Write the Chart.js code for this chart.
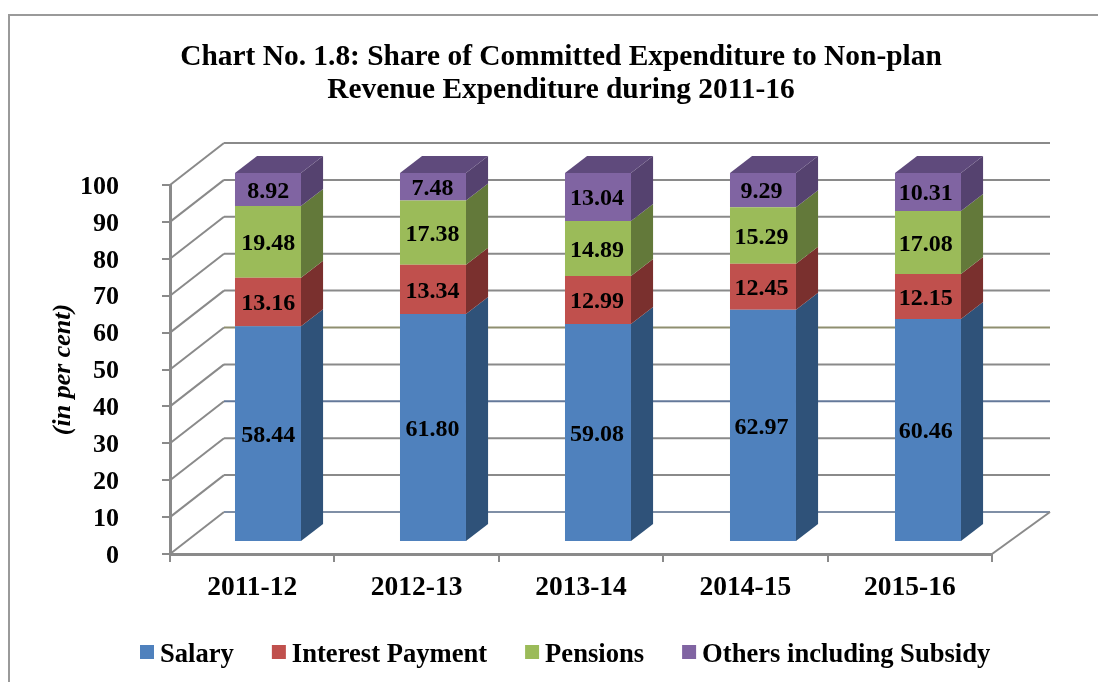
<!DOCTYPE html>
<html>
<head>
<meta charset="utf-8">
<script src="https://cdn.jsdelivr.net/npm/chart.js@4/dist/chart.umd.js"></script>
<style>
html, body { margin: 0; padding: 0; background: #ffffff; }
#wrap { width: 1098px; height: 682px; }
</style>
</head>
<body>
<div id="wrap"><canvas id="chart" width="1098" height="682"></canvas></div>
<script>
const categories = ['2011-12', '2012-13', '2013-14', '2014-15', '2015-16'];
const salary = [58.44, 61.80, 59.08, 62.97, 60.46];
const interestPayment = [13.16, 13.34, 12.99, 12.45, 12.15];
const pensions = [19.48, 17.38, 14.89, 15.29, 17.08];
const others = [8.92, 7.48, 13.04, 9.29, 10.31];
const valueTicks = [0, 10, 20, 30, 40, 50, 60, 70, 80, 90, 100];

const frontColors = ['#4F81BD', '#C0504D', '#9BBB59', '#8064A2'];
const sideColors = ['#2F5279', '#7A302E', '#63793A', '#55426F'];
const topColors = ['#3F6898', '#9A403E', '#7E9848', '#5F4A7C'];
const serif = '"Liberation Serif", "Times New Roman", serif';

// the chart is a fake 3D one: bars sit this far in from the axis plane
const barShift = { x: 14.87, y: -12 };
const barStretch = 165 / 164.4;
const labelShift = { x: 16, y: -10 };
const barDepth = { x: 22, y: -17 };
const wallShift = { left: 54, right: 58, y: -42 };
const gridColor = '#8A8A8A';
// a few wall lines have a tint in the original
const wallTints = { 0: '#7F8FA6', 30: '#64799A', 50: '#8F8F70' };

function quad(ctx, pts, color) {
    ctx.fillStyle = color;
    ctx.beginPath();
    ctx.moveTo(pts[0][0], pts[0][1]);
    for (let i = 1; i < pts.length; i++) ctx.lineTo(pts[i][0], pts[i][1]);
    ctx.closePath();
    ctx.fill();
}

const fake3d = {
    id: 'fake3d',
    beforeDraw(chart) {
        // outer frame, the right side is cut off in the original
        const ctx = chart.ctx;
        ctx.save();
        ctx.strokeStyle = '#9A9A9A';
        ctx.lineWidth = 2;
        ctx.beginPath();
        ctx.moveTo(9, 682);
        ctx.lineTo(9, 15);
        ctx.lineTo(1098, 15);
        ctx.stroke();
        ctx.restore();
    },
    beforeDatasetsDraw(chart) {
        const ctx = chart.ctx;
        const area = chart.chartArea;
        const yScale = chart.scales.y;
        ctx.save();
        ctx.lineWidth = 2;
        valueTicks.forEach(v => {
            const y = yScale.getPixelForValue(v);
            ctx.strokeStyle = gridColor;
            ctx.beginPath();
            ctx.moveTo(area.left, y);
            ctx.lineTo(area.left + wallShift.left, y + wallShift.y);
            ctx.stroke();
            ctx.strokeStyle = wallTints[v] || gridColor;
            ctx.beginPath();
            ctx.moveTo(area.left + wallShift.left, y + wallShift.y);
            ctx.lineTo(area.right + wallShift.right, y + wallShift.y);
            ctx.stroke();
        });
        const y0 = yScale.getPixelForValue(0);
        ctx.strokeStyle = gridColor;
        ctx.beginPath();
        ctx.moveTo(area.right, y0);
        ctx.lineTo(area.right + wallShift.right, y0 + wallShift.y);
        ctx.stroke();

        // bar sides and tops, then chart.js draws the fronts on top
        ctx.translate(barShift.x, barShift.y);
        ctx.scale(barStretch, 1);
        chart.data.datasets.forEach((ds, di) => {
            chart.getDatasetMeta(di).data.forEach(bar => {
                const p = bar.getProps(['x', 'y', 'base', 'width'], true);
                const right = p.x + p.width / 2;
                const left = p.x - p.width / 2;
                quad(ctx, [
                    [right, p.y], [right + barDepth.x, p.y + barDepth.y],
                    [right + barDepth.x, p.base + barDepth.y], [right, p.base]
                ], sideColors[di]);
                if (di === chart.data.datasets.length - 1) {
                    quad(ctx, [
                        [left, p.y], [left + barDepth.x, p.y + barDepth.y],
                        [right + barDepth.x, p.y + barDepth.y], [right, p.y]
                    ], topColors[di]);
                }
            });
        });
    },
    afterDatasetsDraw(chart) {
        const ctx = chart.ctx;
        ctx.restore();
        // value labels
        ctx.save();
        ctx.font = 'bold 24px ' + serif;
        ctx.fillStyle = '#000000';
        ctx.textAlign = 'center';
        ctx.textBaseline = 'middle';
        chart.data.datasets.forEach((ds, di) => {
            chart.getDatasetMeta(di).data.forEach((bar, i) => {
                const p = bar.getProps(['x', 'y', 'base'], true);
                const text = ds.data[i].toFixed(2);
                ctx.fillText(text, p.x + labelShift.x, (p.y + p.base) / 2 + labelShift.y);
            });
        });
        ctx.restore();
    },
    afterDraw(chart) {
        const ctx = chart.ctx;
        ctx.save();
        // title
        ctx.fillStyle = '#000000';
        ctx.textAlign = 'center';
        ctx.textBaseline = 'middle';
        ctx.font = 'bold 29.4px ' + serif;
        ctx.fillText('Chart No. 1.8: Share of Committed Expenditure to Non-plan', 561, 57);
        ctx.fillText('Revenue Expenditure during 2011-16', 561, 90);

        // legend, drawn by hand so the swatch gap can be tight
        ctx.textAlign = 'left';
        ctx.font = 'bold 26.6px ' + serif;
        let x = 140;
        const y = 652;
        chart.data.datasets.forEach((ds, di) => {
            ctx.fillStyle = frontColors[di];
            ctx.fillRect(x, y - 7, 14, 14);
            ctx.fillStyle = '#000000';
            ctx.fillText(ds.label, x + 20, y + 3);
            x += 20 + ctx.measureText(ds.label).width + 38;
        });
        ctx.restore();
    }
};

const makeSet = (label, data, i) => ({
    label: label,
    data: data,
    backgroundColor: frontColors[i],
    barPercentage: 0.4,
    categoryPercentage: 1
});

new Chart(document.getElementById('chart'), {
    type: 'bar',
    data: {
        labels: categories,
        datasets: [
            makeSet('Salary', salary, 0),
            makeSet('Interest Payment', interestPayment, 1),
            makeSet('Pensions', pensions, 2),
            makeSet('Others including Subsidy', others, 3)
        ]
    },
    options: {
        responsive: false,
        animation: false,
        layout: { padding: { left: 0, right: 106, top: 185, bottom: 0 } },
        plugins: {
            legend: { display: false },
            tooltip: { enabled: false },
            title: { display: false }
        },
        scales: {
            x: {
                stacked: true,
                afterFit(s) { s.height = 682 - 554; },
                border: { color: gridColor, width: 3 },
                grid: { drawOnChartArea: false, color: gridColor, lineWidth: 2, tickLength: 8 },
                ticks: { color: '#000000', font: { family: serif, size: 27.5, weight: 'bold' }, padding: 9, maxRotation: 0 }
            },
            y: {
                stacked: true,
                min: 0,
                max: 100,
                afterFit(s) { s.width = 170; },
                border: { color: gridColor, width: 3 },
                grid: { drawOnChartArea: false, color: gridColor, lineWidth: 2, tickLength: 8 },
                ticks: { stepSize: 10, color: '#000000', font: { family: serif, size: 26, weight: 'bold' }, padding: 43, labelOffset: 2 },
                title: {
                    display: true,
                    text: '(in per cent)',
                    color: '#000000',
                    font: { family: serif, size: 26, style: 'italic', weight: 'bold' },
                    padding: { top: 48, bottom: 0 }
                }
            }
        }
    },
    plugins: [fake3d]
});
</script>
</body>
</html>
